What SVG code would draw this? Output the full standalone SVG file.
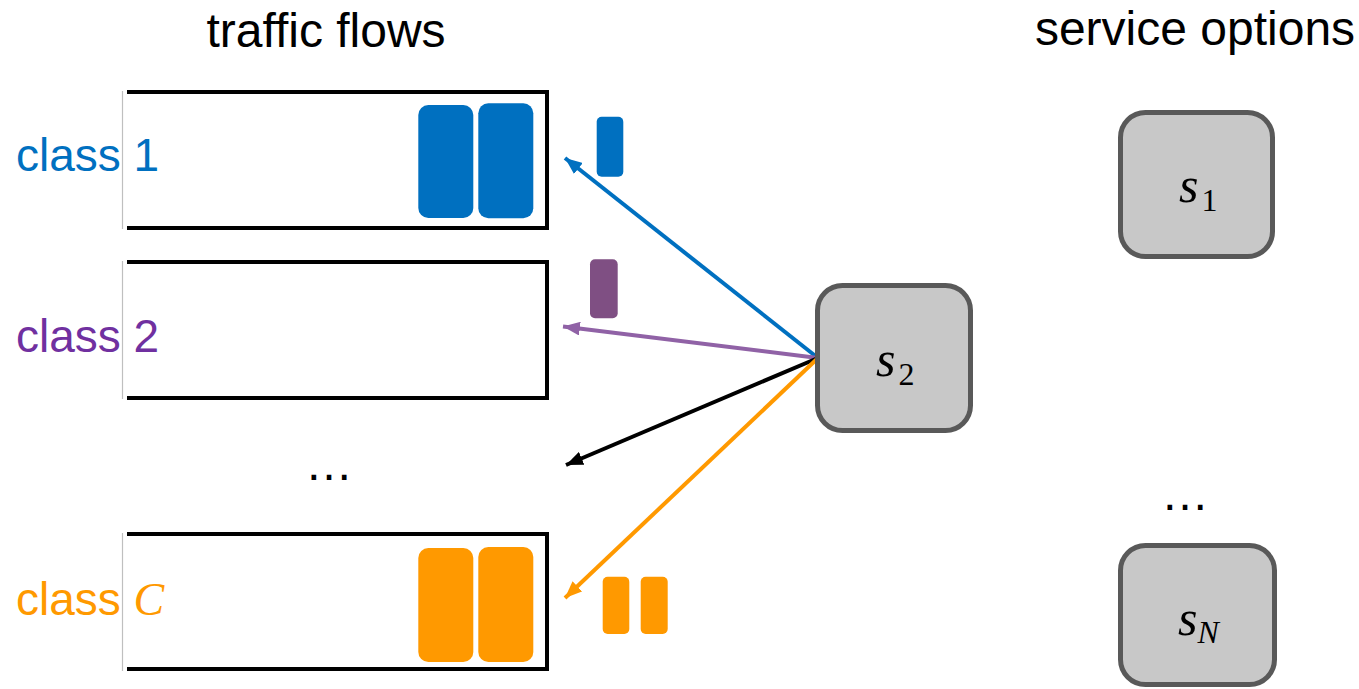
<svg xmlns="http://www.w3.org/2000/svg" width="1359" height="689" viewBox="0 0 1359 689">
<style>
.title{font-family:"Liberation Sans",Arial,sans-serif;font-size:48px;fill:#000}
.cls{font-family:"Liberation Sans",Arial,sans-serif;font-size:46px}
.queue{fill:none;stroke:#000;stroke-width:4;stroke-linejoin:miter}
.edge{stroke:#BFBFBF;stroke-width:1.2}
.node{fill:#C8C8C8;stroke:#595959;stroke-width:5}
.math{font-family:"Liberation Serif","Times New Roman",serif;font-style:italic;font-size:50px;fill:#000}
.sub{font-style:normal;font-size:32px}
.subi{font-style:italic;font-size:32px}
.dots{font-family:"Liberation Sans",Arial,sans-serif;font-size:48px;fill:#000}
.conn{fill:none;stroke-width:4}
</style>
<defs>
<marker id="ah-blue" markerUnits="userSpaceOnUse" markerWidth="18" markerHeight="14" refX="17" refY="7" orient="auto"><path d="M0,0 L17,7 L0,14 z" fill="#0070C0"/></marker>
<marker id="ah-purple" markerUnits="userSpaceOnUse" markerWidth="18" markerHeight="14" refX="17" refY="7" orient="auto"><path d="M0,0 L17,7 L0,14 z" fill="#9062A6"/></marker>
<marker id="ah-black" markerUnits="userSpaceOnUse" markerWidth="18" markerHeight="14" refX="17" refY="7" orient="auto"><path d="M0,0 L17,7 L0,14 z" fill="#000"/></marker>
<marker id="ah-orange" markerUnits="userSpaceOnUse" markerWidth="18" markerHeight="14" refX="17" refY="7" orient="auto"><path d="M0,0 L17,7 L0,14 z" fill="#FF9900"/></marker>
</defs>
<rect width="1359" height="689" fill="#fff"/>

<text class="title" x="326" y="47" text-anchor="middle">traffic flows</text>
<text class="title" x="1195" y="45" text-anchor="middle">service options</text>

<g id="queue1">
<line class="edge" x1="122.5" y1="91" x2="122.5" y2="229"/>
<path class="queue" d="M127,92 H547 V228 H127"/>
<rect x="418.3" y="105" width="55" height="113" rx="10" fill="#0070C0"/>
<rect x="478.3" y="103.3" width="55" height="115" rx="10" fill="#0070C0"/>
<text class="cls" x="16" y="171" fill="#0070C0">class 1</text>
</g>

<g id="queue2">
<line class="edge" x1="122.5" y1="261" x2="122.5" y2="399"/>
<path class="queue" d="M127,262 H547 V398 H127"/>
<text class="cls" x="16" y="352" fill="#7030A0">class 2</text>
</g>

<g id="queueC">
<line class="edge" x1="122.5" y1="533" x2="122.5" y2="671"/>
<path class="queue" d="M127,534 H547 V669 H127"/>
<rect x="418.3" y="548" width="55" height="114" rx="10" fill="#FF9900"/>
<rect x="478.3" y="547" width="55" height="115" rx="10" fill="#FF9900"/>
<text class="cls" x="16" y="615" fill="#FF9900">class <tspan font-family="'Liberation Serif','Times New Roman',serif" font-style="italic">C</tspan></text>
</g>

<text class="dots" x="305" y="480">…</text>
<text class="dots" x="1161" y="510">…</text>

<g id="packets">
<rect x="596.7" y="116.7" width="26.6" height="60" rx="5" fill="#0070C0"/>
<rect x="590" y="259.3" width="27.7" height="59" rx="5" fill="#7F4F83"/>
<rect x="602.7" y="576.7" width="26.6" height="57.3" rx="5" fill="#FF9900"/>
<rect x="640.7" y="576.7" width="27" height="57.3" rx="5" fill="#FF9900"/>
</g>

<g id="connectors">
<line class="conn" x1="818" y1="358" x2="565" y2="158" stroke="#0070C0" marker-end="url(#ah-blue)"/>
<line class="conn" x1="818" y1="358" x2="563" y2="326.5" stroke="#9062A6" marker-end="url(#ah-purple)"/>
<line class="conn" x1="818" y1="358" x2="566" y2="465" stroke="#000" marker-end="url(#ah-black)"/>
<line class="conn" x1="818" y1="358" x2="565" y2="598" stroke="#FF9900" marker-end="url(#ah-orange)"/>
</g>

<g id="s2">
<rect class="node" x="817.5" y="285.5" width="153" height="145" rx="25"/>
<text class="math" x="876" y="376">s<tspan class="sub" dx="3" dy="9">2</tspan></text>
</g>

<g id="s1">
<rect class="node" x="1120.5" y="112.5" width="152" height="144" rx="25"/>
<text class="math" x="1179" y="202">s<tspan class="sub" dx="3" dy="9">1</tspan></text>
</g>

<g id="sN">
<rect class="node" x="1120.5" y="545.5" width="154" height="139" rx="25"/>
<text class="math" x="1178" y="635">s<tspan class="subi" dx="0" dy="8">N</tspan></text>
</g>
</svg>
